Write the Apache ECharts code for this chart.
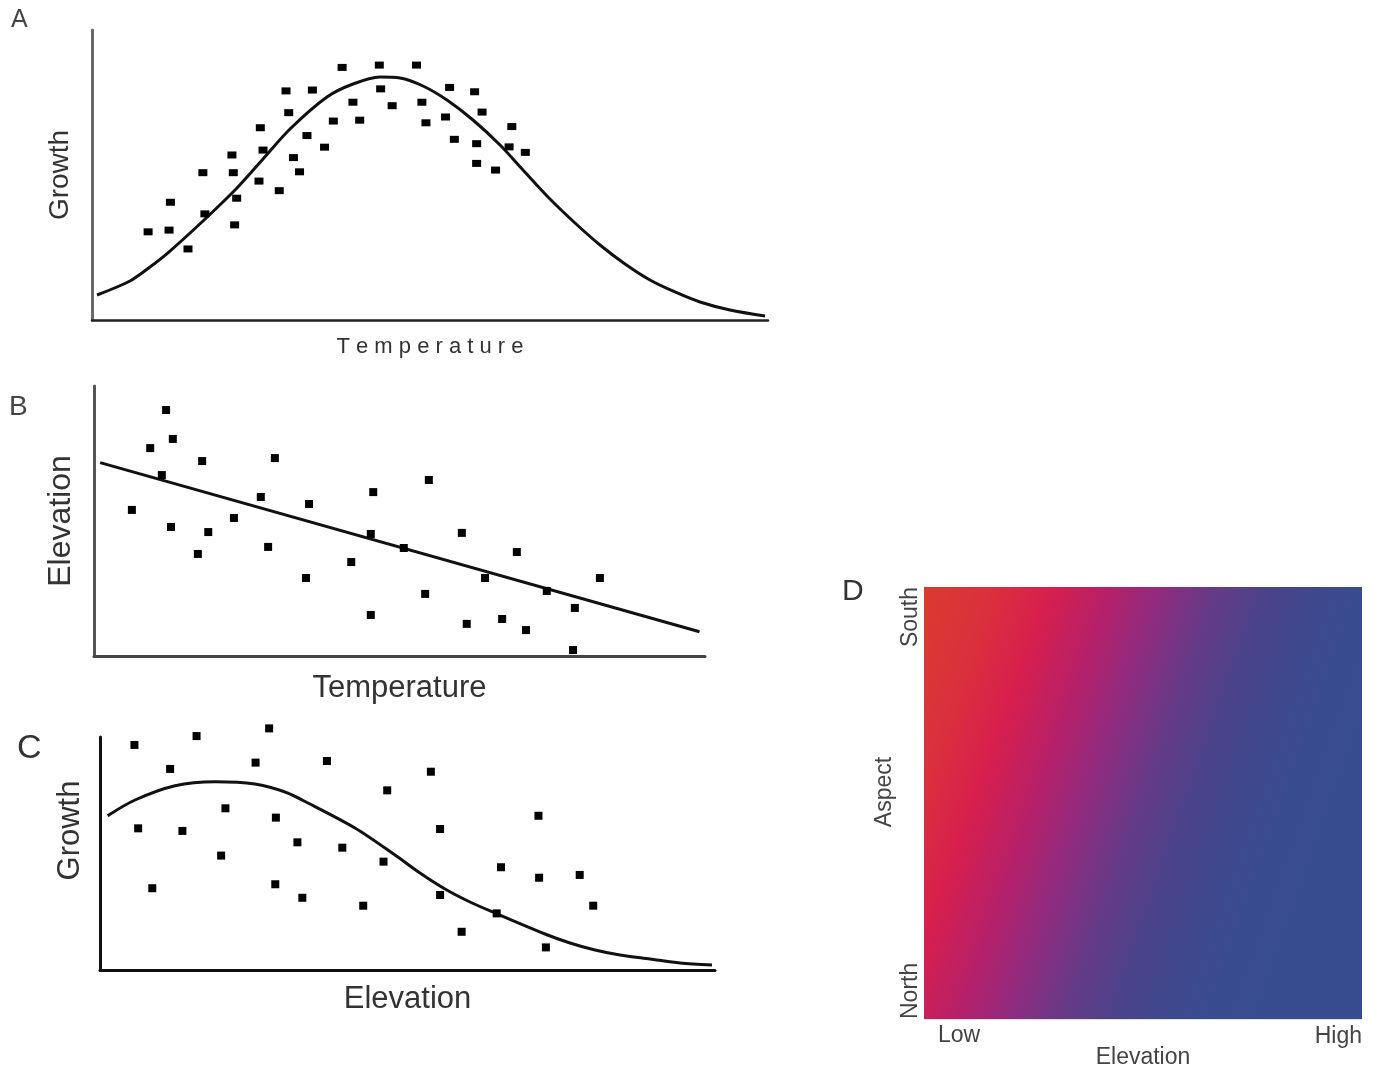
<!DOCTYPE html>
<html>
<head>
<meta charset="utf-8">
<script src="https://cdn.jsdelivr.net/npm/echarts@6/dist/echarts.min.js"></script>
<style>
html,body{margin:0;padding:0;background:#fff;}
#main{width:1373px;height:1070px;}
</style>
</head>
<body>
<div id="main"></div>
<script>
// ---------- Panel A: Growth vs Temperature (0-100 arbitrary units) ----------
const panelAPoints = [
  [8.3,30.4],[11.4,31.0],[11.6,40.6],[14.2,24.5],[16.4,50.8],[16.7,36.6],[20.7,56.9],[20.9,50.8],
  [21.4,42.0],[21.1,32.8],[24.9,66.3],[25.3,58.6],[24.7,47.9],[27.7,44.6],[28.7,79.0],[29.1,71.5],
  [29.8,56.0],[30.7,51.1],[32.6,79.3],[31.8,63.6],[34.4,59.6],[35.7,68.6],[37.0,87.1],[38.6,75.1],
  [39.6,68.9],[42.5,87.9],[42.7,79.7],[44.4,73.9],[48.0,87.9],[48.8,75.1],[49.4,68.0],[52.3,70.0],
  [52.9,80.2],[53.6,62.3],[56.6,78.7],[57.7,71.7],[56.9,60.8],[56.9,54.0],[59.7,51.7],[62.1,66.7],
  [61.7,59.7],[64.1,57.8]
];
const panelACurve = [
  [0.74,8.62],[5.62,13.45],[8.58,18.28],[11.54,23.79],[16.42,34.14],[21.45,45.52],[25.30,55.52],
  [29.29,65.86],[34.76,76.90],[38.61,81.38],[42.60,83.79],[45.56,83.45],[48.96,80.69],[52.51,75.86],
  [56.36,68.97],[60.36,60.34],[63.76,51.72],[67.75,41.72],[71.45,33.45],[75.15,25.86],[78.85,19.31],
  [82.54,13.79],[86.24,9.66],[89.94,6.21],[94.38,3.45],[99.56,1.38]
];

// ---------- Panel B: Elevation vs Temperature ----------
const panelBPoints = [
  [11.8,91.1],[9.2,77.0],[12.9,80.4],[17.7,72.2],[29.6,73.3],[11.1,67.0],[6.2,54.1],[12.6,47.8],
  [18.7,45.9],[17.0,37.8],[22.9,51.1],[27.3,58.9],[28.5,40.4],[35.2,56.3],[34.7,28.9],[42.1,34.8],
  [45.7,60.7],[45.3,45.2],[45.3,15.2],[54.8,65.2],[50.7,40.0],[60.2,45.6],[69.2,38.5],[64.0,28.9],
  [82.8,28.9],[54.2,23.0],[74.1,24.1],[61.0,11.9],[66.8,13.7],[70.7,9.6],[78.7,17.8],[78.4,2.2]
];
const panelBLine = [[1.0,71.6],[99.1,9.0]];

// ---------- Panel C: Growth vs Elevation ----------
const panelCPoints = [
  [5.6,96.6],[15.7,100.4],[27.5,103.7],[11.4,86.3],[25.3,89.0],[36.9,89.7],[53.8,85.1],[46.7,77.1],
  [20.4,69.4],[28.6,65.4],[6.2,60.8],[13.4,59.7],[55.3,60.5],[71.3,66.2],[32.1,54.8],[39.4,52.5],
  [19.7,49.1],[46.1,46.5],[65.2,44.1],[71.4,39.6],[78.0,40.8],[8.5,35.1],[28.5,36.8],[32.9,31.0],
  [42.8,27.6],[55.3,32.2],[80.2,27.6],[64.5,24.3],[58.8,16.4],[72.5,9.7]
];
const panelCCurve = [
  [1.25,66.22],[5.69,72.96],[12.20,79.10],[18.70,80.82],[25.20,79.83],[30.08,76.39],[33.82,71.67],
  [41.46,60.94],[47.97,49.36],[52.03,41.63],[56.10,34.76],[60.16,29.18],[64.23,24.46],[72.36,15.45],
  [76.42,11.59],[80.49,8.58],[84.55,6.44],[89.43,4.72],[94.31,3.00],[99.51,2.15]
];

// ---------- Panel D: gradient field (Elevation x Aspect) ----------
const panelDCell = [[0, 0, 1, 1]]; // elevation from, aspect from, elevation to, aspect to
const panelDStopOffsets = [0, 0.142, 0.257, 0.38, 0.487, 0.59, 0.69, 0.797, 0.885, 1];
const panelDStopColors = ['#DB3A2F','#DA303D','#D71F4E','#B5206A','#8E2C80','#663A86','#4C428A','#3F488D','#394B8F','#374C8F'];
const panelDXLabels = ['Low', 'High'];
const panelDYLabels = ['North', 'South'];

const FONT = "'Liberation Sans', Arial, Helvetica, sans-serif";
const chart = echarts.init(document.getElementById('main'), null, {renderer: 'canvas'});

function plainAxis(extra) {
  return Object.assign({
    type: 'value', min: 0, max: 100,
    axisTick: {show: false}, axisLabel: {show: false}, splitLine: {show: false},
    nameLocation: 'middle', nameMoveOverlap: false
  }, extra);
}

const stops = panelDStopOffsets.map((o, i) => ({offset: o, color: panelDStopColors[i]}));
const dot = {color: '#000', opacity: 1};

const option = {
  animation: false,
  backgroundColor: '#ffffff',
  textStyle: {fontFamily: FONT},
  title: [
    {text: 'A', left: 11, top: 8, padding: 0, textStyle: {fontSize: 25, fontWeight: 'normal', color: '#444', fontFamily: FONT}},
    {text: 'B', left: 9, top: 393, padding: 0, textStyle: {fontSize: 28, fontWeight: 'normal', color: '#444', fontFamily: FONT}},
    {text: 'C', left: 17, top: 732, padding: 0, textStyle: {fontSize: 34, fontWeight: 'normal', color: '#333', fontFamily: FONT}},
    {text: 'D', left: 842, top: 577, padding: 0, textStyle: {fontSize: 30, fontWeight: 'normal', color: '#333', fontFamily: FONT}}
  ],
  grid: [
    {left: 92, top: 30, width: 676, height: 290, containLabel: false},
    {left: 94, top: 386, width: 611, height: 270, containLabel: false},
    {left: 100, top: 737, width: 615, height: 233, containLabel: false},
    {left: 924, top: 587, width: 438, height: 434, containLabel: false}
  ],
  xAxis: [
    plainAxis({gridIndex: 0, name: 'T e m p e r a t u r e', nameGap: 16,
      nameTextStyle: {fontSize: 22, color: '#333', fontFamily: FONT},
      axisLine: {lineStyle: {color: '#222', width: 2.5}}}),
    plainAxis({gridIndex: 1, name: 'Temperature', nameGap: 17,
      nameTextStyle: {fontSize: 31, color: '#333', fontFamily: FONT},
      axisLine: {lineStyle: {color: '#444', width: 3}}}),
    plainAxis({gridIndex: 2, name: 'Elevation', nameGap: 14,
      nameTextStyle: {fontSize: 31, color: '#333', fontFamily: FONT},
      axisLine: {lineStyle: {color: '#111', width: 3}}}),
    {type: 'value', gridIndex: 3, min: 0, max: 1, interval: 1, position: 'bottom',
      name: 'Elevation', nameLocation: 'middle', nameGap: 27, nameMoveOverlap: false,
      nameTextStyle: {fontSize: 23, color: '#444', fontFamily: FONT},
      axisLine: {show: true, lineStyle: {color: '#ddd', width: 1}},
      axisTick: {show: false}, splitLine: {show: false},
      axisLabel: {show: true, fontSize: 23, color: '#444', fontFamily: FONT, margin: 5,
        align: 'left', padding: [0, 0, 0, 14],
        formatter: v => (v === 0 ? panelDXLabels[0] : '')}},
    {type: 'value', gridIndex: 3, min: 0, max: 1, interval: 1, position: 'bottom',
      axisLine: {show: false}, axisTick: {show: false}, splitLine: {show: false},
      axisLabel: {show: true, fontSize: 23, color: '#444', fontFamily: FONT, margin: 6,
        align: 'right',
        formatter: v => (v === 1 ? panelDXLabels[1] : '')}}
  ],
  yAxis: [
    plainAxis({gridIndex: 0, name: 'Growth', nameGap: 18,
      nameTextStyle: {fontSize: 28, color: '#333', fontFamily: FONT},
      axisLine: {lineStyle: {color: '#6a6a6a', width: 3}}}),
    plainAxis({gridIndex: 1, name: 'Elevation', nameGap: 17,
      nameTextStyle: {fontSize: 32, color: '#333', fontFamily: FONT},
      axisLine: {lineStyle: {color: '#555', width: 3}}}),
    plainAxis({gridIndex: 2, name: 'Growth', nameGap: 14,
      nameTextStyle: {fontSize: 31, color: '#333', fontFamily: FONT, padding: [0, 0, 0, 46]},
      axisLine: {lineStyle: {color: '#111', width: 3}}}),
    {type: 'value', gridIndex: 3, min: 0, max: 1, interval: 1, position: 'left',
      name: 'Aspect', nameLocation: 'middle', nameGap: 28, nameMoveOverlap: false,
      nameTextStyle: {fontSize: 23, color: '#444', fontFamily: FONT, padding: [0, 0, 0, 22]},
      axisLine: {show: true, lineStyle: {color: '#ccc', width: 1}},
      axisTick: {show: false}, splitLine: {show: false},
      axisLabel: {show: true, fontSize: 23, color: '#444', fontFamily: FONT, margin: 2,
        rotate: 90, align: 'right', verticalAlign: 'bottom',
        formatter: v => (v === 1 ? panelDYLabels[1] : '')}},
    {type: 'value', gridIndex: 3, min: 0, max: 1, interval: 1, position: 'left',
      axisLine: {show: false}, axisTick: {show: false}, splitLine: {show: false},
      axisLabel: {show: true, fontSize: 23, color: '#444', fontFamily: FONT, margin: 2,
        rotate: 90, align: 'left', verticalAlign: 'bottom',
        formatter: v => (v === 0 ? panelDYLabels[0] : '')}}
  ],
  series: [
    {type: 'scatter', xAxisIndex: 0, yAxisIndex: 0, data: panelAPoints, symbol: 'rect',
      symbolSize: [9, 7], itemStyle: dot, clip: false, z: 3},
    {type: 'line', xAxisIndex: 0, yAxisIndex: 0, data: panelACurve, smooth: 0.3, showSymbol: false,
      symbol: 'none', lineStyle: {color: '#111', width: 3}, clip: false, z: 2},
    {type: 'scatter', xAxisIndex: 1, yAxisIndex: 1, data: panelBPoints, symbol: 'rect',
      symbolSize: [8, 8], itemStyle: dot, clip: false, z: 3},
    {type: 'line', xAxisIndex: 1, yAxisIndex: 1, data: panelBLine, showSymbol: false,
      symbol: 'none', lineStyle: {color: '#111', width: 3}, clip: false, z: 2},
    {type: 'scatter', xAxisIndex: 2, yAxisIndex: 2, data: panelCPoints, symbol: 'rect',
      symbolSize: [8, 8], itemStyle: dot, clip: false, z: 3},
    {type: 'line', xAxisIndex: 2, yAxisIndex: 2, data: panelCCurve, smooth: 0.3, showSymbol: false,
      symbol: 'none', lineStyle: {color: '#111', width: 3}, clip: false, z: 2},
    {type: 'custom', xAxisIndex: 3, yAxisIndex: 3, data: panelDCell,
      encode: {x: [0, 2], y: [1, 3]},
      renderItem: function (params, api) {
        const p0 = api.coord([api.value(0), api.value(3)]);
        const p1 = api.coord([api.value(2), api.value(1)]);
        return {
          type: 'rect',
          shape: {x: p0[0], y: p0[1], width: p1[0] - p0[0], height: p1[1] - p0[1]},
          style: {fill: new echarts.graphic.LinearGradient(0, 0, 1, 0.36, stops)}
        };
      }, z: 1}
  ]
};
chart.setOption(option);
</script>
</body>
</html>
